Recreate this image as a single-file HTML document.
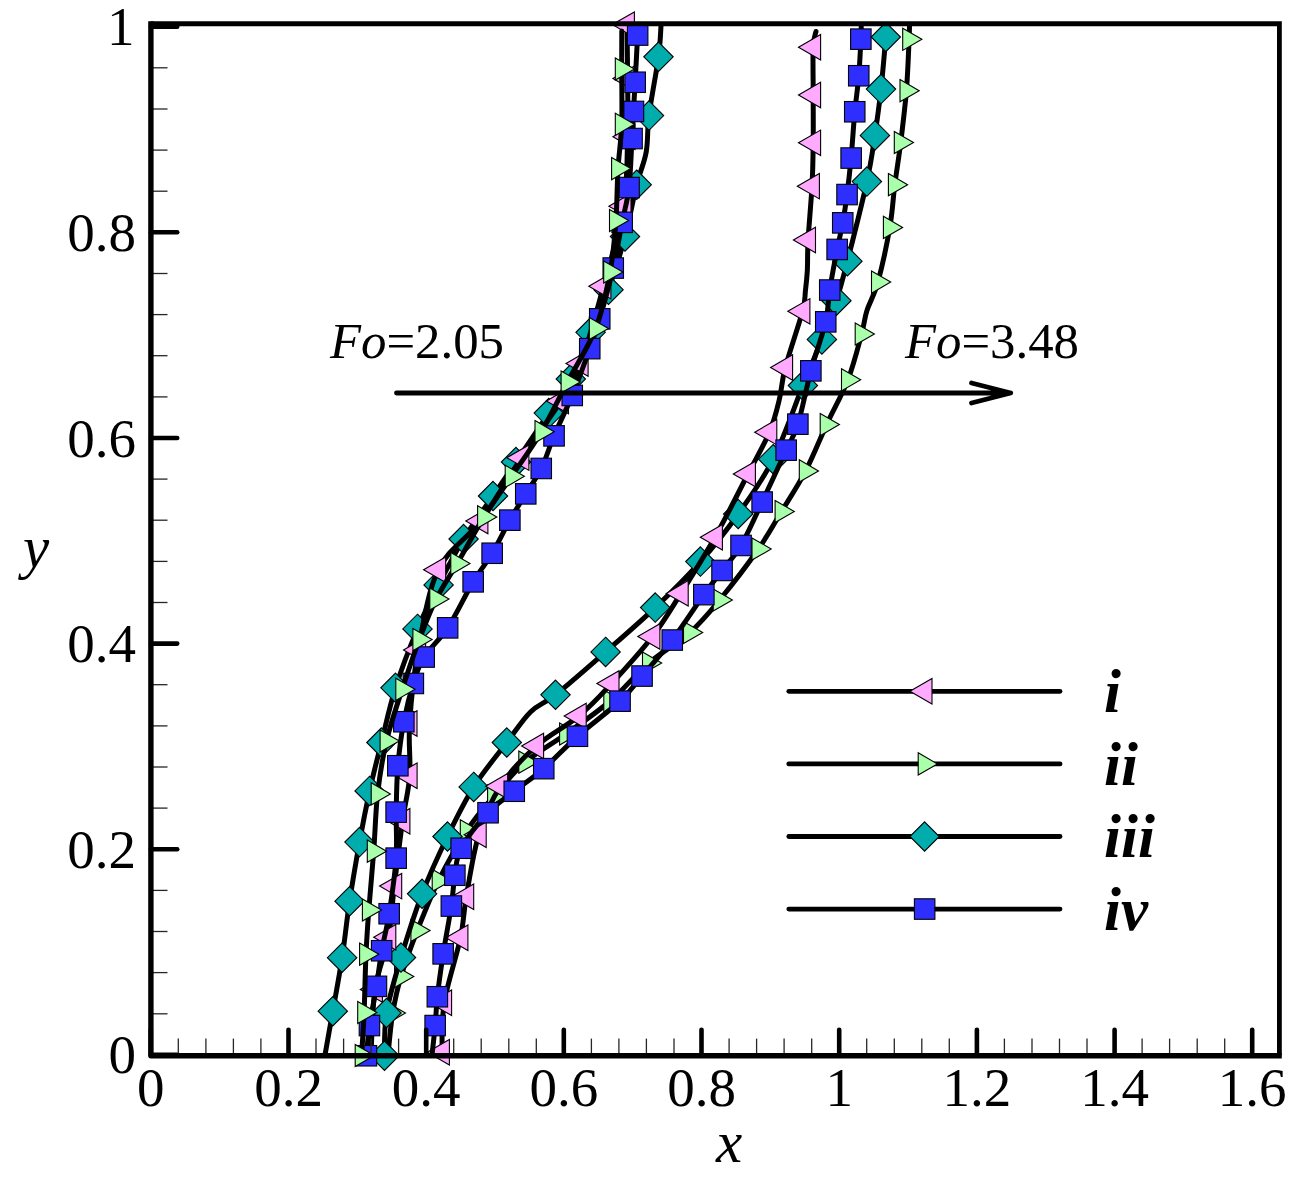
<!DOCTYPE html>
<html><head><meta charset="utf-8"><style>
html,body{margin:0;padding:0;background:#fff;}
svg{display:block;}
.ln{fill:none;stroke:#000;stroke-width:5;stroke-linejoin:round;stroke-linecap:round;}
.mp{fill:#ffaaff;stroke:#000;stroke-width:1.1;stroke-linejoin:miter;}
.mg{fill:#aaffaa;stroke:#000;stroke-width:1.1;}
.mt{fill:#00acac;stroke:#000;stroke-width:1.1;}
.mb{fill:#2e2eff;stroke:#000;stroke-width:1.1;}
.tk{stroke:#000;stroke-width:4.6;stroke-linecap:round;}
.tm{stroke:#262626;stroke-width:1.3;}
.fr{fill:none;stroke:#000;stroke-width:5.1;}
.tl{font-family:"Liberation Serif",serif;font-size:55px;fill:#000;}
.at{font-family:"Liberation Serif",serif;font-size:59px;font-style:italic;fill:#000;}
.fo{font-family:"Liberation Serif",serif;font-size:50.8px;fill:#000;}
.arr{fill:none;stroke:#000;stroke-width:4.8;stroke-linecap:round;stroke-linejoin:round;}
.lg{stroke:#000;stroke-width:4.8;stroke-linecap:round;}
.lt{font-family:"Liberation Serif",serif;font-size:61px;font-style:italic;font-weight:bold;fill:#000;}
</style></head><body>
<svg width="1305" height="1186" viewBox="0 0 1305 1186">
<defs><clipPath id="pc"><rect x="150.9" y="23.75" width="1128.5" height="1031.45"/></clipPath></defs>
<g>
<path class="ln" d="M909.5,26.0 C909.4,28.2 909.6,28.5 909.1,39.3 C908.6,50.1 907.8,73.5 906.4,90.7 C905.0,107.9 902.6,126.8 900.7,142.5 C898.8,158.2 896.6,170.5 894.8,184.7 C893.0,198.8 892.6,211.2 889.8,227.4 C887.0,243.6 881.7,268.2 877.9,282.1 C874.1,296.0 869.5,302.4 866.8,311.0 C864.1,319.6 864.8,322.5 861.6,334.0 C858.5,345.5 853.7,364.7 847.9,379.8 C842.1,394.9 833.6,409.4 826.6,424.6 C819.6,439.8 813.2,456.4 805.7,470.9 C798.2,485.4 789.4,498.5 781.5,511.5 C773.6,524.5 768.7,534.2 758.4,549.0 C748.1,563.8 731.0,586.1 719.6,600.0 C708.2,613.9 701.7,622.0 689.9,632.5 C678.1,643.0 662.2,651.6 648.9,663.0 C635.6,674.4 624.0,689.2 610.2,701.0 C596.4,712.8 580.2,723.8 566.0,734.0 C551.8,744.2 537.2,751.9 525.2,762.2 C513.2,772.5 503.8,784.6 494.0,796.0 C484.2,807.4 475.9,816.7 466.7,830.8 C457.5,844.9 446.8,863.8 438.6,880.4 C430.4,897.0 423.6,914.5 417.3,930.5 C411.0,946.5 405.1,962.8 401.0,976.5 C396.9,990.2 394.9,999.9 392.7,1013.0 C390.5,1026.1 388.8,1048.0 388.0,1055.0"/>
<path d="M902.7,28.2L921.9,39.3L902.7,50.4Z" class="mg"/><path d="M900.0,79.6L919.2,90.7L900.0,101.8Z" class="mg"/><path d="M894.3,131.4L913.5,142.5L894.3,153.6Z" class="mg"/><path d="M888.4,173.6L907.6,184.7L888.4,195.8Z" class="mg"/><path d="M883.4,216.3L902.6,227.4L883.4,238.5Z" class="mg"/><path d="M871.5,271.0L890.7,282.1L871.5,293.2Z" class="mg"/><path d="M855.2,322.9L874.4,334.0L855.2,345.1Z" class="mg"/><path d="M841.5,368.7L860.7,379.8L841.5,390.9Z" class="mg"/><path d="M820.2,413.5L839.4,424.6L820.2,435.7Z" class="mg"/><path d="M799.3,459.8L818.5,470.9L799.3,482.0Z" class="mg"/><path d="M775.1,500.4L794.3,511.5L775.1,522.6Z" class="mg"/><path d="M752.0,537.9L771.2,549.0L752.0,560.1Z" class="mg"/><path d="M713.2,588.9L732.4,600.0L713.2,611.1Z" class="mg"/><path d="M683.5,621.4L702.7,632.5L683.5,643.6Z" class="mg"/><path d="M642.5,651.9L661.7,663.0L642.5,674.1Z" class="mg"/><path d="M603.8,689.9L623.0,701.0L603.8,712.1Z" class="mg"/><path d="M559.6,722.9L578.8,734.0L559.6,745.1Z" class="mg"/><path d="M518.8,751.1L538.0,762.2L518.8,773.3Z" class="mg"/><path d="M487.6,784.9L506.8,796.0L487.6,807.1Z" class="mg"/><path d="M460.3,819.7L479.5,830.8L460.3,841.9Z" class="mg"/><path d="M432.2,869.3L451.4,880.4L432.2,891.5Z" class="mg"/><path d="M410.9,919.4L430.1,930.5L410.9,941.6Z" class="mg"/><path d="M394.6,965.4L413.8,976.5L394.6,987.6Z" class="mg"/><path d="M386.3,1001.9L405.5,1013.0L386.3,1024.1Z" class="mg"/>
<path class="ln" d="M886.5,26.0 C886.4,27.8 886.7,26.5 885.8,37.0 C884.9,47.5 882.8,72.7 881.0,89.1 C879.2,105.5 877.2,120.0 874.9,135.4 C872.5,150.8 871.5,160.6 866.9,181.6 C862.3,202.6 852.5,241.3 847.4,261.2 C842.3,281.1 840.6,287.7 836.4,300.7 C832.1,313.7 827.5,325.3 821.9,339.4 C816.3,353.5 811.0,365.5 802.9,385.5 C794.8,405.5 784.0,437.8 773.2,459.2 C762.4,480.6 750.3,496.9 738.2,514.0 C726.1,531.1 714.2,546.0 700.4,561.6 C686.6,577.2 671.0,592.6 655.2,607.6 C639.4,622.6 622.2,637.4 605.6,651.9 C589.0,666.4 568.0,684.8 555.5,694.8 C543.0,704.8 538.6,704.0 530.5,712.0 C522.4,720.0 516.3,730.0 506.8,742.5 C497.3,755.0 483.6,771.2 473.7,786.9 C463.8,802.6 456.1,818.7 447.5,836.5 C438.9,854.3 429.9,873.6 422.1,893.8 C414.4,914.0 406.9,937.6 401.0,957.5 C395.1,977.4 389.2,996.6 386.5,1013.0 C383.8,1029.4 384.8,1048.6 384.5,1055.7"/>
<path d="M885.8,22.3L900.5,37.0L885.8,51.7L871.1,37.0Z" class="mt"/><path d="M881.0,74.4L895.7,89.1L881.0,103.8L866.3,89.1Z" class="mt"/><path d="M874.9,120.7L889.6,135.4L874.9,150.1L860.2,135.4Z" class="mt"/><path d="M866.9,166.9L881.6,181.6L866.9,196.3L852.2,181.6Z" class="mt"/><path d="M847.4,246.5L862.1,261.2L847.4,275.9L832.7,261.2Z" class="mt"/><path d="M836.4,286.0L851.1,300.7L836.4,315.4L821.7,300.7Z" class="mt"/><path d="M821.9,324.7L836.6,339.4L821.9,354.1L807.2,339.4Z" class="mt"/><path d="M802.9,370.8L817.6,385.5L802.9,400.2L788.2,385.5Z" class="mt"/><path d="M773.2,444.5L787.9,459.2L773.2,473.9L758.5,459.2Z" class="mt"/><path d="M738.2,499.3L752.9,514.0L738.2,528.7L723.5,514.0Z" class="mt"/><path d="M700.4,546.9L715.1,561.6L700.4,576.3L685.7,561.6Z" class="mt"/><path d="M655.2,592.9L669.9,607.6L655.2,622.3L640.5,607.6Z" class="mt"/><path d="M605.6,637.2L620.3,651.9L605.6,666.6L590.9,651.9Z" class="mt"/><path d="M555.5,680.1L570.2,694.8L555.5,709.5L540.8,694.8Z" class="mt"/><path d="M506.8,727.8L521.5,742.5L506.8,757.2L492.1,742.5Z" class="mt"/><path d="M473.7,772.2L488.4,786.9L473.7,801.6L459.0,786.9Z" class="mt"/><path d="M447.5,821.8L462.2,836.5L447.5,851.2L432.8,836.5Z" class="mt"/><path d="M422.1,879.1L436.8,893.8L422.1,908.5L407.4,893.8Z" class="mt"/><path d="M401.0,942.8L415.7,957.5L401.0,972.2L386.3,957.5Z" class="mt"/><path d="M386.5,998.3L401.2,1013.0L386.5,1027.7L371.8,1013.0Z" class="mt"/><path d="M384.5,1041.0L399.2,1055.7L384.5,1070.4L369.8,1055.7Z" class="mt"/>
<path class="ln" d="M816.0,31.5 C815.5,34.1 813.7,36.7 813.2,47.3 C812.7,57.9 813.2,79.1 813.2,95.0 C813.2,110.9 813.4,127.6 813.2,142.8 C813.0,158.0 812.9,170.0 812.0,186.2 C811.1,202.4 808.9,225.9 808.1,240.0 C807.3,254.1 807.8,262.5 807.3,271.0 C806.8,279.5 806.2,284.3 805.4,291.0 C804.6,297.7 805.9,298.6 802.5,311.3 C799.1,324.1 789.2,352.7 785.3,367.5 C781.4,382.3 781.9,389.2 779.2,400.0 C776.6,410.8 774.6,419.9 769.4,432.2 C764.2,444.5 757.1,456.5 748.0,474.0 C738.9,491.5 726.2,517.3 715.0,537.2 C703.8,557.1 691.3,576.9 680.9,593.4 C670.5,609.9 664.0,621.5 652.5,636.5 C641.0,651.5 623.9,670.2 611.6,683.5 C599.3,696.8 591.5,705.6 578.9,716.0 C566.3,726.4 549.4,734.3 536.3,746.0 C523.2,757.7 509.9,771.5 500.3,786.3 C490.7,801.1 484.5,816.3 478.8,834.7 C473.1,853.1 469.4,879.5 466.3,896.7 C463.2,913.9 464.2,920.0 460.5,937.7 C456.8,955.4 447.3,983.6 444.2,1002.7 C441.1,1021.8 442.4,1044.0 442.0,1052.3"/>
<path d="M798.5,47.3L820.6,34.5L820.6,60.0Z" class="mp"/><path d="M798.5,95.0L820.6,82.2L820.6,107.8Z" class="mp"/><path d="M798.5,142.8L820.6,130.1L820.6,155.6Z" class="mp"/><path d="M797.3,186.2L819.4,173.4L819.4,198.9Z" class="mp"/><path d="M793.4,240.0L815.5,227.2L815.5,252.8Z" class="mp"/><path d="M787.8,311.3L809.9,298.6L809.9,324.1Z" class="mp"/><path d="M770.6,367.5L792.6,354.8L792.6,380.2Z" class="mp"/><path d="M754.7,432.2L776.8,419.4L776.8,444.9Z" class="mp"/><path d="M733.3,474.0L755.4,461.2L755.4,486.8Z" class="mp"/><path d="M700.3,537.2L722.4,524.5L722.4,550.0Z" class="mp"/><path d="M666.2,593.4L688.2,580.6L688.2,606.1Z" class="mp"/><path d="M637.8,636.5L659.9,623.8L659.9,649.2Z" class="mp"/><path d="M596.9,683.5L619.0,670.8L619.0,696.2Z" class="mp"/><path d="M564.2,716.0L586.2,703.2L586.2,728.8Z" class="mp"/><path d="M521.6,746.0L543.6,733.2L543.6,758.8Z" class="mp"/><path d="M485.6,786.3L507.7,773.5L507.7,799.0Z" class="mp"/><path d="M464.1,834.7L486.2,822.0L486.2,847.5Z" class="mp"/><path d="M451.6,896.7L473.7,884.0L473.7,909.5Z" class="mp"/><path d="M445.8,937.7L467.9,925.0L467.9,950.5Z" class="mp"/><path d="M429.5,1002.7L451.6,990.0L451.6,1015.5Z" class="mp"/><path d="M427.3,1052.3L449.4,1039.5L449.4,1065.0Z" class="mp"/>
<path class="ln" d="M861.2,26.0 C861.2,28.2 861.3,30.8 860.9,39.1 C860.5,47.4 859.8,63.7 858.8,75.8 C857.8,87.9 856.1,98.1 854.8,111.8 C853.5,125.5 852.4,144.2 851.1,158.0 C849.8,171.8 848.4,183.8 847.0,194.6 C845.6,205.4 844.4,213.7 842.8,222.8 C841.1,232.0 839.3,238.3 837.1,249.5 C834.9,260.7 831.6,277.9 829.7,290.0 C827.8,302.1 828.8,308.3 825.7,321.8 C822.6,335.3 815.5,353.7 810.9,370.8 C806.3,387.9 802.0,411.0 797.9,424.2 C793.8,437.4 792.1,437.2 786.1,450.2 C780.1,463.2 769.6,486.1 762.1,502.0 C754.6,517.9 747.7,534.1 741.0,545.5 C734.3,556.9 728.2,562.3 722.0,570.5 C715.8,578.7 712.2,583.0 703.9,594.6 C695.6,606.2 682.5,626.4 672.2,640.0 C661.9,653.6 650.7,665.8 642.0,676.0 C633.3,686.2 630.8,691.1 620.0,701.1 C609.2,711.1 590.2,725.0 577.5,736.3 C564.8,747.5 554.2,759.4 543.7,768.6 C533.2,777.8 523.5,783.9 514.2,791.3 C504.9,798.6 496.9,803.2 488.0,812.7 C479.1,822.2 466.6,837.9 461.1,848.3 C455.6,858.7 456.5,865.6 454.9,875.2 C453.3,884.8 453.2,892.9 451.3,906.0 C449.4,919.1 445.5,938.8 443.2,953.9 C440.9,969.0 438.6,984.8 437.3,996.8 C436.0,1008.8 436.1,1015.9 435.2,1025.6 C434.3,1035.3 432.5,1050.1 432.0,1055.0"/>
<rect x="850.6" y="28.9" width="20.5" height="20.5" class="mb"/><rect x="848.5" y="65.5" width="20.5" height="20.5" class="mb"/><rect x="844.5" y="101.5" width="20.5" height="20.5" class="mb"/><rect x="840.9" y="147.8" width="20.5" height="20.5" class="mb"/><rect x="836.8" y="184.3" width="20.5" height="20.5" class="mb"/><rect x="832.5" y="212.6" width="20.5" height="20.5" class="mb"/><rect x="826.9" y="239.2" width="20.5" height="20.5" class="mb"/><rect x="819.5" y="279.8" width="20.5" height="20.5" class="mb"/><rect x="815.5" y="311.6" width="20.5" height="20.5" class="mb"/><rect x="800.6" y="360.6" width="20.5" height="20.5" class="mb"/><rect x="787.6" y="413.9" width="20.5" height="20.5" class="mb"/><rect x="775.9" y="439.9" width="20.5" height="20.5" class="mb"/><rect x="751.9" y="491.8" width="20.5" height="20.5" class="mb"/><rect x="730.8" y="535.2" width="20.5" height="20.5" class="mb"/><rect x="711.8" y="560.2" width="20.5" height="20.5" class="mb"/><rect x="693.6" y="584.4" width="20.5" height="20.5" class="mb"/><rect x="662.0" y="629.8" width="20.5" height="20.5" class="mb"/><rect x="631.8" y="665.8" width="20.5" height="20.5" class="mb"/><rect x="609.8" y="690.9" width="20.5" height="20.5" class="mb"/><rect x="567.2" y="726.0" width="20.5" height="20.5" class="mb"/><rect x="533.5" y="758.4" width="20.5" height="20.5" class="mb"/><rect x="504.0" y="781.0" width="20.5" height="20.5" class="mb"/><rect x="477.8" y="802.5" width="20.5" height="20.5" class="mb"/><rect x="450.9" y="838.0" width="20.5" height="20.5" class="mb"/><rect x="444.6" y="865.0" width="20.5" height="20.5" class="mb"/><rect x="441.1" y="895.8" width="20.5" height="20.5" class="mb"/><rect x="432.9" y="943.6" width="20.5" height="20.5" class="mb"/><rect x="427.1" y="986.5" width="20.5" height="20.5" class="mb"/><rect x="424.9" y="1015.3" width="20.5" height="20.5" class="mb"/>
<path class="ln" d="M661.0,26.0 C660.6,31.1 660.5,41.9 658.5,56.8 C656.5,71.7 651.0,99.7 649.0,115.6 C647.0,131.5 648.2,140.5 646.2,152.0 C644.2,163.5 640.2,170.6 636.7,184.7 C633.2,198.8 629.7,219.0 625.0,236.5 C620.3,254.0 614.2,273.7 608.5,289.7 C602.8,305.7 596.9,317.4 590.6,332.3 C584.3,347.2 577.8,365.5 570.8,379.0 C563.8,392.5 557.9,399.3 548.8,413.1 C539.7,426.9 525.3,448.2 516.0,462.0 C506.7,475.8 501.7,483.2 493.0,496.0 C484.3,508.8 472.7,524.2 463.6,539.0 C454.5,553.8 446.3,569.9 438.6,584.9 C430.9,599.9 424.7,611.8 417.5,628.9 C410.3,646.0 401.5,668.9 395.5,687.8 C389.5,706.7 385.7,725.3 381.4,742.5 C377.1,759.7 373.2,774.3 369.6,790.9 C366.0,807.5 362.8,823.7 359.5,842.1 C356.2,860.5 352.5,881.9 349.6,901.2 C346.7,920.5 344.9,939.4 342.1,957.7 C339.3,976.0 335.7,995.0 332.8,1011.2 C329.9,1027.4 326.3,1047.7 325.0,1055.0"/>
<path d="M658.5,42.1L673.2,56.8L658.5,71.5L643.8,56.8Z" class="mt"/><path d="M649.0,100.9L663.7,115.6L649.0,130.3L634.3,115.6Z" class="mt"/><path d="M636.7,170.0L651.4,184.7L636.7,199.4L622.0,184.7Z" class="mt"/><path d="M625.0,221.8L639.7,236.5L625.0,251.2L610.3,236.5Z" class="mt"/><path d="M608.5,275.0L623.2,289.7L608.5,304.4L593.8,289.7Z" class="mt"/><path d="M590.6,317.6L605.3,332.3L590.6,347.0L575.9,332.3Z" class="mt"/><path d="M570.8,364.3L585.5,379.0L570.8,393.7L556.1,379.0Z" class="mt"/><path d="M548.8,398.4L563.5,413.1L548.8,427.8L534.1,413.1Z" class="mt"/><path d="M516.0,447.3L530.7,462.0L516.0,476.7L501.3,462.0Z" class="mt"/><path d="M493.0,481.3L507.7,496.0L493.0,510.7L478.3,496.0Z" class="mt"/><path d="M463.6,524.3L478.3,539.0L463.6,553.7L448.9,539.0Z" class="mt"/><path d="M438.6,570.2L453.3,584.9L438.6,599.6L423.9,584.9Z" class="mt"/><path d="M417.5,614.2L432.2,628.9L417.5,643.6L402.8,628.9Z" class="mt"/><path d="M395.5,673.1L410.2,687.8L395.5,702.5L380.8,687.8Z" class="mt"/><path d="M381.4,727.8L396.1,742.5L381.4,757.2L366.7,742.5Z" class="mt"/><path d="M369.6,776.2L384.3,790.9L369.6,805.6L354.9,790.9Z" class="mt"/><path d="M359.5,827.4L374.2,842.1L359.5,856.8L344.8,842.1Z" class="mt"/><path d="M349.6,886.5L364.3,901.2L349.6,915.9L334.9,901.2Z" class="mt"/><path d="M342.1,943.0L356.8,957.7L342.1,972.4L327.4,957.7Z" class="mt"/><path d="M332.8,996.5L347.5,1011.2L332.8,1025.9L318.1,1011.2Z" class="mt"/>
<path class="ln" d="M627.0,24.6 C627.1,33.6 627.5,59.7 627.6,78.4 C627.7,97.1 628.3,115.5 627.6,136.8 C626.9,158.1 627.6,181.3 623.6,206.2 C619.6,231.1 610.6,260.0 603.5,286.2 C596.4,312.4 587.8,344.4 580.7,363.5 C573.6,382.6 571.0,385.3 561.1,401.0 C551.2,416.7 534.9,437.7 521.5,457.7 C508.1,477.7 494.4,502.3 480.5,521.0 C466.6,539.7 448.7,548.2 438.3,569.7 C427.9,591.2 423.0,624.4 418.2,650.0 C413.4,675.6 411.0,702.5 409.6,723.5 C408.2,744.5 410.9,759.4 409.7,775.7 C408.5,792.0 405.1,802.9 402.5,821.3 C399.9,839.7 396.7,866.8 394.3,886.1 C391.9,905.4 391.6,920.1 388.4,937.3 C385.2,954.5 377.9,969.9 375.0,989.5 C372.1,1009.1 371.7,1044.1 371.0,1055.0"/>
<path d="M612.3,24.6L634.4,11.9L634.4,37.4Z" class="mp"/><path d="M612.9,78.4L635.0,65.7L635.0,91.2Z" class="mp"/><path d="M612.9,136.8L635.0,124.1L635.0,149.6Z" class="mp"/><path d="M608.9,206.2L631.0,193.4L631.0,218.9Z" class="mp"/><path d="M588.8,286.2L610.9,273.4L610.9,298.9Z" class="mp"/><path d="M566.0,363.5L588.1,350.8L588.1,376.2Z" class="mp"/><path d="M546.4,401.0L568.5,388.2L568.5,413.8Z" class="mp"/><path d="M506.8,457.7L528.9,444.9L528.9,470.4Z" class="mp"/><path d="M465.8,521.0L487.9,508.2L487.9,533.8Z" class="mp"/><path d="M423.6,569.7L445.7,557.0L445.7,582.5Z" class="mp"/><path d="M403.5,650.0L425.6,637.2L425.6,662.8Z" class="mp"/><path d="M394.9,723.5L417.0,710.8L417.0,736.2Z" class="mp"/><path d="M395.0,775.7L417.1,763.0L417.1,788.5Z" class="mp"/><path d="M387.8,821.3L409.9,808.5L409.9,834.0Z" class="mp"/><path d="M379.6,886.1L401.7,873.4L401.7,898.9Z" class="mp"/><path d="M373.7,937.3L395.8,924.5L395.8,950.0Z" class="mp"/><path d="M360.3,989.5L382.4,976.8L382.4,1002.2Z" class="mp"/>
<path class="ln" d="M637.6,26.0 C637.6,27.5 638.0,25.6 637.6,35.0 C637.2,44.4 635.8,69.5 635.1,82.2 C634.4,95.0 634.0,102.1 633.5,111.5 C633.0,120.9 632.8,125.9 632.0,138.6 C631.2,151.3 630.6,173.6 629.0,187.6 C627.4,201.6 624.7,208.9 622.1,222.3 C619.5,235.7 616.9,251.9 613.2,268.0 C609.5,284.1 603.6,305.4 599.7,318.8 C595.8,332.2 594.4,335.8 589.8,348.6 C585.2,361.4 578.2,380.9 572.2,395.5 C566.2,410.1 559.1,423.7 554.0,435.9 C548.9,448.1 546.0,458.8 541.3,468.5 C536.6,478.2 530.9,485.3 525.7,493.9 C520.5,502.5 515.5,510.2 509.9,520.1 C504.3,530.0 498.3,543.0 492.2,553.3 C486.1,563.6 480.5,569.5 473.1,581.9 C465.7,594.3 455.9,615.4 447.7,627.9 C439.5,640.4 429.8,647.7 424.1,657.0 C418.4,666.3 416.7,672.7 413.3,683.5 C409.9,694.3 406.4,708.0 403.8,721.7 C401.2,735.4 399.2,750.7 397.9,765.8 C396.6,780.9 396.5,796.7 396.2,812.1 C395.9,827.5 397.3,841.2 396.1,858.1 C394.9,875.0 391.5,898.4 389.1,913.8 C386.7,929.2 383.8,938.6 381.7,950.7 C379.6,962.8 378.5,973.9 376.5,986.4 C374.5,998.9 371.2,1014.0 369.5,1025.6 C367.8,1037.1 367.0,1050.7 366.5,1055.7"/>
<rect x="627.4" y="24.8" width="20.5" height="20.5" class="mb"/><rect x="624.9" y="72.0" width="20.5" height="20.5" class="mb"/><rect x="623.2" y="101.2" width="20.5" height="20.5" class="mb"/><rect x="621.8" y="128.3" width="20.5" height="20.5" class="mb"/><rect x="618.8" y="177.3" width="20.5" height="20.5" class="mb"/><rect x="611.9" y="212.1" width="20.5" height="20.5" class="mb"/><rect x="603.0" y="257.8" width="20.5" height="20.5" class="mb"/><rect x="589.5" y="308.6" width="20.5" height="20.5" class="mb"/><rect x="579.5" y="338.4" width="20.5" height="20.5" class="mb"/><rect x="562.0" y="385.2" width="20.5" height="20.5" class="mb"/><rect x="543.8" y="425.6" width="20.5" height="20.5" class="mb"/><rect x="531.0" y="458.2" width="20.5" height="20.5" class="mb"/><rect x="515.5" y="483.6" width="20.5" height="20.5" class="mb"/><rect x="499.6" y="509.9" width="20.5" height="20.5" class="mb"/><rect x="481.9" y="543.0" width="20.5" height="20.5" class="mb"/><rect x="462.9" y="571.6" width="20.5" height="20.5" class="mb"/><rect x="437.4" y="617.6" width="20.5" height="20.5" class="mb"/><rect x="413.9" y="646.8" width="20.5" height="20.5" class="mb"/><rect x="403.1" y="673.2" width="20.5" height="20.5" class="mb"/><rect x="393.6" y="711.5" width="20.5" height="20.5" class="mb"/><rect x="387.6" y="755.5" width="20.5" height="20.5" class="mb"/><rect x="385.9" y="801.9" width="20.5" height="20.5" class="mb"/><rect x="385.9" y="847.9" width="20.5" height="20.5" class="mb"/><rect x="378.9" y="903.5" width="20.5" height="20.5" class="mb"/><rect x="371.4" y="940.5" width="20.5" height="20.5" class="mb"/><rect x="366.2" y="976.1" width="20.5" height="20.5" class="mb"/><rect x="359.2" y="1015.3" width="20.5" height="20.5" class="mb"/><rect x="356.2" y="1045.5" width="20.5" height="20.5" class="mb"/>
<path class="ln" d="M621.8,31.0 C621.8,37.3 621.7,53.5 621.7,69.0 C621.7,84.5 622.3,107.7 621.7,124.3 C621.1,140.9 619.0,152.6 618.0,168.6 C617.0,184.6 617.2,203.3 615.9,220.5 C614.6,237.7 613.5,254.0 610.1,272.0 C606.7,290.0 602.8,310.2 595.7,328.5 C588.6,346.8 576.5,364.8 567.5,382.0 C558.5,399.2 550.7,416.0 541.4,431.7 C532.1,447.4 521.2,462.1 511.6,476.3 C502.0,490.5 493.1,502.3 484.0,516.9 C474.9,531.4 465.2,549.9 457.2,563.6 C449.2,577.3 442.5,586.3 436.2,599.0 C429.9,611.7 425.0,624.6 419.3,639.6 C413.6,654.6 407.7,672.4 402.2,689.3 C396.7,706.2 390.6,723.6 386.5,741.0 C382.4,758.4 379.7,775.5 377.6,793.9 C375.5,812.3 375.2,831.9 373.7,851.2 C372.2,870.6 370.1,892.8 368.8,910.0 C367.5,927.2 366.8,937.1 366.0,954.2 C365.2,971.3 364.8,995.6 364.1,1012.5 C363.4,1029.4 362.0,1048.3 361.6,1055.5"/>
<path d="M615.3,57.9L634.5,69.0L615.3,80.1Z" class="mg"/><path d="M615.3,113.2L634.5,124.3L615.3,135.4Z" class="mg"/><path d="M611.6,157.5L630.8,168.6L611.6,179.7Z" class="mg"/><path d="M609.5,209.4L628.7,220.5L609.5,231.6Z" class="mg"/><path d="M603.7,260.9L622.9,272.0L603.7,283.1Z" class="mg"/><path d="M589.3,317.4L608.5,328.5L589.3,339.6Z" class="mg"/><path d="M561.1,370.9L580.3,382.0L561.1,393.1Z" class="mg"/><path d="M535.0,420.6L554.2,431.7L535.0,442.8Z" class="mg"/><path d="M505.2,465.2L524.4,476.3L505.2,487.4Z" class="mg"/><path d="M477.6,505.8L496.8,516.9L477.6,528.0Z" class="mg"/><path d="M450.8,552.5L470.0,563.6L450.8,574.7Z" class="mg"/><path d="M429.8,587.9L449.0,599.0L429.8,610.1Z" class="mg"/><path d="M412.9,628.5L432.1,639.6L412.9,650.7Z" class="mg"/><path d="M395.8,678.2L415.0,689.3L395.8,700.4Z" class="mg"/><path d="M380.1,729.9L399.3,741.0L380.1,752.1Z" class="mg"/><path d="M371.2,782.8L390.4,793.9L371.2,805.0Z" class="mg"/><path d="M367.3,840.1L386.5,851.2L367.3,862.3Z" class="mg"/><path d="M362.4,898.9L381.6,910.0L362.4,921.1Z" class="mg"/><path d="M359.6,943.1L378.8,954.2L359.6,965.3Z" class="mg"/><path d="M357.7,1001.4L376.9,1012.5L357.7,1023.6Z" class="mg"/><path d="M355.2,1044.4L374.4,1055.5L355.2,1066.6Z" class="mg"/>
</g>
<text x="136.0" y="1073.4" class="tl" text-anchor="end">0</text>
<text x="136.0" y="867.8" class="tl" text-anchor="end">0.2</text>
<text x="136.0" y="662.1" class="tl" text-anchor="end">0.4</text>
<text x="136.0" y="456.5" class="tl" text-anchor="end">0.6</text>
<text x="136.0" y="250.8" class="tl" text-anchor="end">0.8</text>
<text x="134.5" y="45.2" class="tl" text-anchor="end">1</text>
<text x="150.8" y="1106" class="tl" text-anchor="middle">0</text>
<text x="288.5" y="1106" class="tl" text-anchor="middle">0.2</text>
<text x="426.2" y="1106" class="tl" text-anchor="middle">0.4</text>
<text x="563.8" y="1106" class="tl" text-anchor="middle">0.6</text>
<text x="701.5" y="1106" class="tl" text-anchor="middle">0.8</text>
<text x="839.2" y="1106" class="tl" text-anchor="middle">1</text>
<text x="976.9" y="1106" class="tl" text-anchor="middle">1.2</text>
<text x="1114.6" y="1106" class="tl" text-anchor="middle">1.4</text>
<text x="1252.2" y="1106" class="tl" text-anchor="middle">1.6</text>
<text x="716" y="1162" class="at">x</text>
<text x="23" y="567" class="at">y</text>
<text x="330" y="357.5" class="fo"><tspan font-style="italic">Fo</tspan>=2.05</text>
<text x="905" y="357.5" class="fo"><tspan font-style="italic">Fo</tspan>=3.48</text>
<path d="M396.5,393 L1010.7,393 M971.5,383 L1010.7,393 L971.5,403" class="arr"/>
<line x1="788.8" y1="691.3" x2="1060" y2="691.3" class="lg"/>
<path d="M909.9,691.3L932.0,678.5L932.0,704.0Z" class="mp"/>
<text x="1104" y="712.1" class="lt">i</text>
<line x1="788.8" y1="763.9" x2="1060" y2="763.9" class="lg"/>
<path d="M918.2,752.8L937.4,763.9L918.2,775.0Z" class="mg"/>
<text x="1104" y="784.7" class="lt">ii</text>
<line x1="788.8" y1="836.5" x2="1060" y2="836.5" class="lg"/>
<path d="M924.6,821.8L939.3,836.5L924.6,851.2L909.9,836.5Z" class="mt"/>
<text x="1104" y="857.3" class="lt">iii</text>
<line x1="788.8" y1="909.1" x2="1060" y2="909.1" class="lg"/>
<rect x="914.4" y="898.8" width="20.5" height="20.5" class="mb"/>
<text x="1104" y="929.9" class="lt">iv</text>
<line x1="150.8" y1="1055.2" x2="150.8" y2="1029.7" class="tk"/>
<line x1="178.3" y1="1055.2" x2="178.3" y2="1038.6" class="tm"/>
<line x1="205.9" y1="1055.2" x2="205.9" y2="1038.6" class="tm"/>
<line x1="233.4" y1="1055.2" x2="233.4" y2="1038.6" class="tm"/>
<line x1="260.9" y1="1055.2" x2="260.9" y2="1038.6" class="tm"/>
<line x1="288.5" y1="1055.2" x2="288.5" y2="1029.7" class="tk"/>
<line x1="316.0" y1="1055.2" x2="316.0" y2="1038.6" class="tm"/>
<line x1="343.6" y1="1055.2" x2="343.6" y2="1038.6" class="tm"/>
<line x1="371.1" y1="1055.2" x2="371.1" y2="1038.6" class="tm"/>
<line x1="398.6" y1="1055.2" x2="398.6" y2="1038.6" class="tm"/>
<line x1="426.2" y1="1055.2" x2="426.2" y2="1029.7" class="tk"/>
<line x1="453.7" y1="1055.2" x2="453.7" y2="1038.6" class="tm"/>
<line x1="481.2" y1="1055.2" x2="481.2" y2="1038.6" class="tm"/>
<line x1="508.8" y1="1055.2" x2="508.8" y2="1038.6" class="tm"/>
<line x1="536.3" y1="1055.2" x2="536.3" y2="1038.6" class="tm"/>
<line x1="563.8" y1="1055.2" x2="563.8" y2="1029.7" class="tk"/>
<line x1="591.4" y1="1055.2" x2="591.4" y2="1038.6" class="tm"/>
<line x1="618.9" y1="1055.2" x2="618.9" y2="1038.6" class="tm"/>
<line x1="646.4" y1="1055.2" x2="646.4" y2="1038.6" class="tm"/>
<line x1="674.0" y1="1055.2" x2="674.0" y2="1038.6" class="tm"/>
<line x1="701.5" y1="1055.2" x2="701.5" y2="1029.7" class="tk"/>
<line x1="729.1" y1="1055.2" x2="729.1" y2="1038.6" class="tm"/>
<line x1="756.6" y1="1055.2" x2="756.6" y2="1038.6" class="tm"/>
<line x1="784.1" y1="1055.2" x2="784.1" y2="1038.6" class="tm"/>
<line x1="811.7" y1="1055.2" x2="811.7" y2="1038.6" class="tm"/>
<line x1="839.2" y1="1055.2" x2="839.2" y2="1029.7" class="tk"/>
<line x1="866.7" y1="1055.2" x2="866.7" y2="1038.6" class="tm"/>
<line x1="894.3" y1="1055.2" x2="894.3" y2="1038.6" class="tm"/>
<line x1="921.8" y1="1055.2" x2="921.8" y2="1038.6" class="tm"/>
<line x1="949.3" y1="1055.2" x2="949.3" y2="1038.6" class="tm"/>
<line x1="976.9" y1="1055.2" x2="976.9" y2="1029.7" class="tk"/>
<line x1="1004.4" y1="1055.2" x2="1004.4" y2="1038.6" class="tm"/>
<line x1="1032.0" y1="1055.2" x2="1032.0" y2="1038.6" class="tm"/>
<line x1="1059.5" y1="1055.2" x2="1059.5" y2="1038.6" class="tm"/>
<line x1="1087.0" y1="1055.2" x2="1087.0" y2="1038.6" class="tm"/>
<line x1="1114.6" y1="1055.2" x2="1114.6" y2="1029.7" class="tk"/>
<line x1="1142.1" y1="1055.2" x2="1142.1" y2="1038.6" class="tm"/>
<line x1="1169.6" y1="1055.2" x2="1169.6" y2="1038.6" class="tm"/>
<line x1="1197.2" y1="1055.2" x2="1197.2" y2="1038.6" class="tm"/>
<line x1="1224.7" y1="1055.2" x2="1224.7" y2="1038.6" class="tm"/>
<line x1="1252.2" y1="1055.2" x2="1252.2" y2="1029.7" class="tk"/>
<line x1="150.9" y1="1054.9" x2="177.2" y2="1054.9" class="tk"/>
<line x1="150.9" y1="1013.8" x2="167.5" y2="1013.8" class="tm"/>
<line x1="150.9" y1="972.6" x2="167.5" y2="972.6" class="tm"/>
<line x1="150.9" y1="931.5" x2="167.5" y2="931.5" class="tm"/>
<line x1="150.9" y1="890.4" x2="167.5" y2="890.4" class="tm"/>
<line x1="150.9" y1="849.3" x2="177.2" y2="849.3" class="tk"/>
<line x1="150.9" y1="808.1" x2="167.5" y2="808.1" class="tm"/>
<line x1="150.9" y1="767.0" x2="167.5" y2="767.0" class="tm"/>
<line x1="150.9" y1="725.9" x2="167.5" y2="725.9" class="tm"/>
<line x1="150.9" y1="684.7" x2="167.5" y2="684.7" class="tm"/>
<line x1="150.9" y1="643.6" x2="177.2" y2="643.6" class="tk"/>
<line x1="150.9" y1="602.5" x2="167.5" y2="602.5" class="tm"/>
<line x1="150.9" y1="561.4" x2="167.5" y2="561.4" class="tm"/>
<line x1="150.9" y1="520.2" x2="167.5" y2="520.2" class="tm"/>
<line x1="150.9" y1="479.1" x2="167.5" y2="479.1" class="tm"/>
<line x1="150.9" y1="438.0" x2="177.2" y2="438.0" class="tk"/>
<line x1="150.9" y1="396.9" x2="167.5" y2="396.9" class="tm"/>
<line x1="150.9" y1="355.7" x2="167.5" y2="355.7" class="tm"/>
<line x1="150.9" y1="314.6" x2="167.5" y2="314.6" class="tm"/>
<line x1="150.9" y1="273.5" x2="167.5" y2="273.5" class="tm"/>
<line x1="150.9" y1="232.3" x2="177.2" y2="232.3" class="tk"/>
<line x1="150.9" y1="191.2" x2="167.5" y2="191.2" class="tm"/>
<line x1="150.9" y1="150.1" x2="167.5" y2="150.1" class="tm"/>
<line x1="150.9" y1="109.0" x2="167.5" y2="109.0" class="tm"/>
<line x1="150.9" y1="67.8" x2="167.5" y2="67.8" class="tm"/>
<line x1="150.9" y1="26.7" x2="177.2" y2="26.7" class="tk"/>
<path d="M150.90,23.75 L1279.40,23.75 L1279.40,1055.20" class="fr" style="stroke-width:4.8"/>
<path d="M150.90,21.35 L150.90,1055.70 L1281.80,1055.70" class="fr" style="stroke-width:5.4;stroke-linejoin:round"/>
</svg>
</body></html>
